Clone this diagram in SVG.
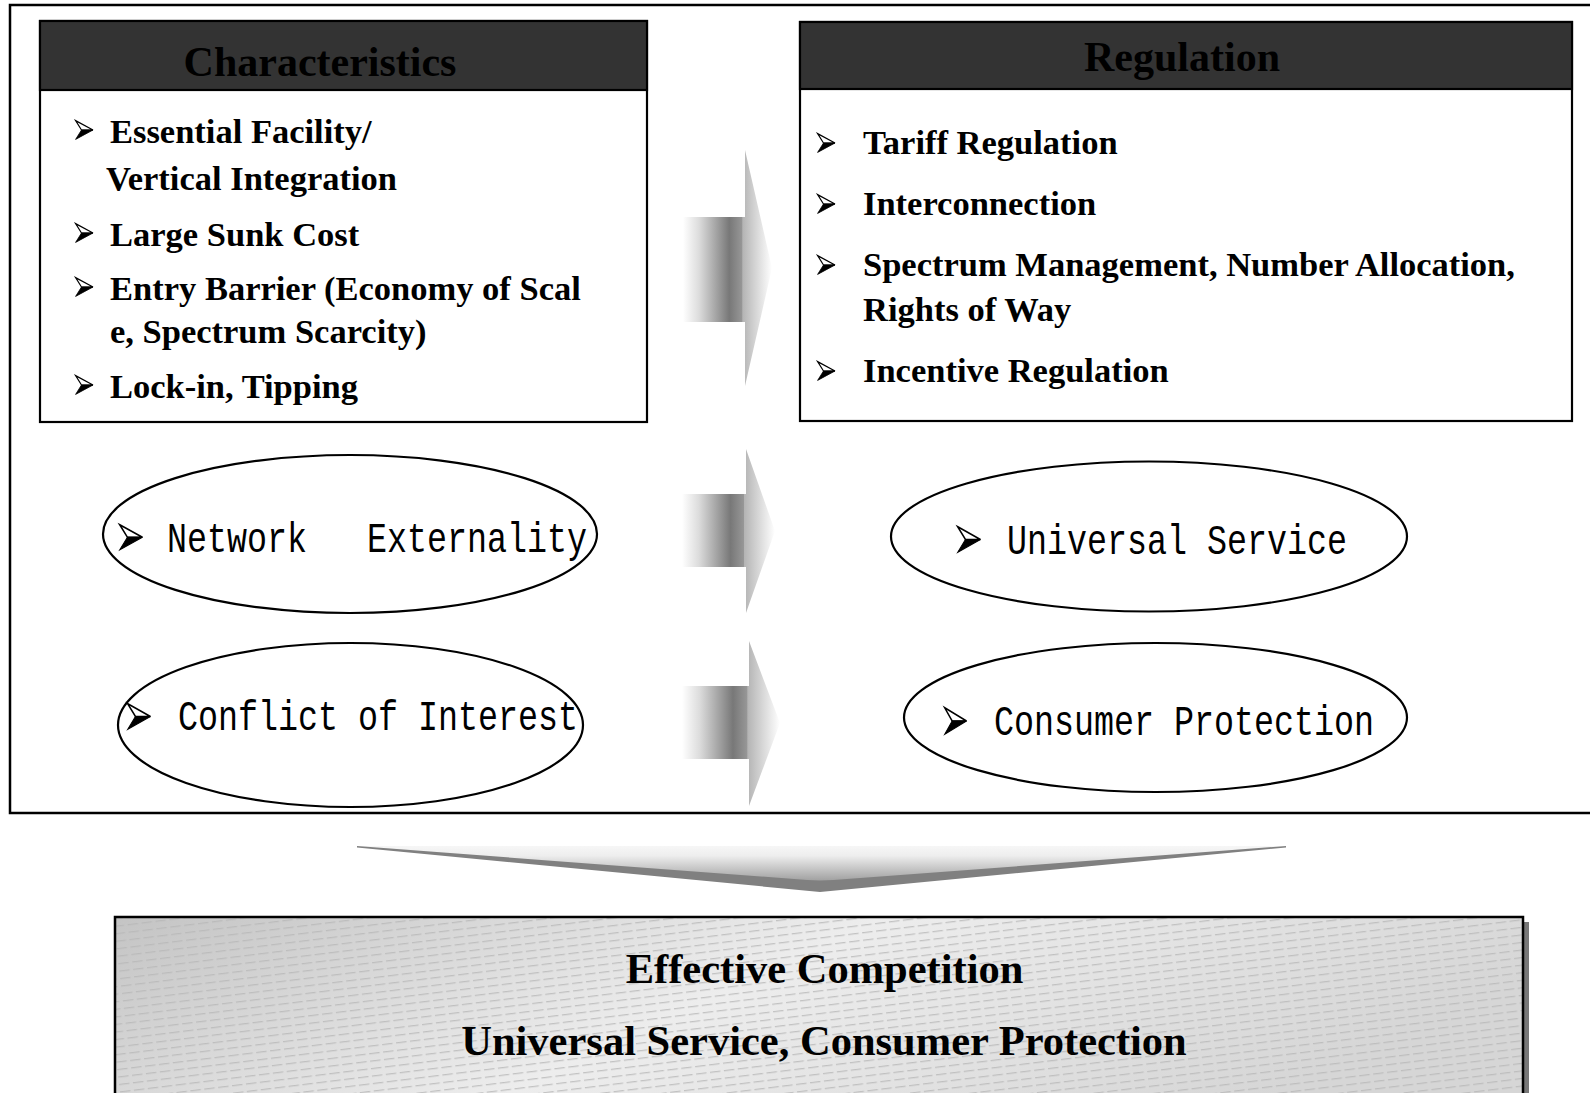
<svg xmlns="http://www.w3.org/2000/svg" width="1590" height="1093" viewBox="0 0 1590 1093">
<style>
.box{fill:#fff;stroke:#000;stroke-width:2.2}
.hdr{fill:#333;stroke:#000;stroke-width:2.2}
.ht{font-family:"Liberation Serif",serif;font-weight:bold;font-size:42px;fill:#000;text-anchor:middle}
.it{font-family:"Liberation Serif",serif;font-weight:bold;font-size:34.5px;fill:#000}
.ell{fill:#fff;stroke:#000;stroke-width:2.2}
.mono{font-family:"Liberation Mono",monospace;font-size:42px;fill:#000}
.bt{font-family:"Liberation Serif",serif;font-weight:bold;font-size:42.5px;fill:#000;text-anchor:middle}
</style>
<defs>
<g id="bul">
<polygon points="0.6,0.6 18,10 6.5,10" fill="#fff" stroke="#000" stroke-width="1.2" stroke-linejoin="miter"/>
<polygon points="6.5,10 18,10 0.6,19.4" fill="#000" stroke="#000" stroke-width="0.8"/>
</g>
<linearGradient id="arrG" x1="0" y1="0" x2="1" y2="0">
<stop offset="0" stop-color="#fff"/>
<stop offset="0.18" stop-color="#dcdcdc"/>
<stop offset="0.4" stop-color="#9c9c9c"/>
<stop offset="0.52" stop-color="#787878"/>
<stop offset="0.665" stop-color="#979797"/>
<stop offset="0.67" stop-color="#b4b4b4"/>
<stop offset="1" stop-color="#fff"/>
</linearGradient>
<linearGradient id="chevG" gradientUnits="userSpaceOnUse" x1="0" y1="836" x2="0" y2="892">
<stop offset="0" stop-color="#fff"/>
<stop offset="0.35" stop-color="#eeeeee"/>
<stop offset="0.78" stop-color="#a4a4a4"/>
<stop offset="0.8" stop-color="#8a8a8a"/>
<stop offset="0.82" stop-color="#9c9c9c"/>
<stop offset="1" stop-color="#989898"/>
</linearGradient>
<linearGradient id="botG" x1="0" y1="0" x2="1" y2="0.3">
<stop offset="0" stop-color="#c4c4c4"/>
<stop offset="0.5" stop-color="#ededed"/>
<stop offset="1" stop-color="#d6d6d6"/>
</linearGradient>
<pattern id="hatch" patternUnits="userSpaceOnUse" width="14" height="7.5" patternTransform="rotate(-7)">
<line x1="0" y1="3.5" x2="10.5" y2="3.5" stroke="#b8b8b8" stroke-width="1"/>
</pattern>
</defs>

<rect id="frame" x="10" y="5" width="1600" height="808" fill="none" stroke="#000" stroke-width="2.5"/>

<g id="characteristics">
<rect class="box" x="40" y="21" width="607" height="401"/>
<rect class="hdr" x="40" y="21" width="607" height="69"/>
<text class="ht" x="320" y="76">Characteristics</text>
<use href="#bul" x="75" y="120"/>
<text class="it" x="110" y="143">Essential Facility/</text>
<text class="it" x="106" y="190">Vertical Integration</text>
<use href="#bul" x="75" y="223"/>
<text class="it" x="110" y="246">Large Sunk Cost</text>
<use href="#bul" x="75" y="277"/>
<text class="it" x="110" y="300">Entry Barrier (Economy of Scal</text>
<text class="it" x="110" y="343">e, Spectrum Scarcity)</text>
<use href="#bul" x="75" y="375"/>
<text class="it" x="110" y="398">Lock-in, Tipping</text>
</g>

<g id="regulation">
<rect class="box" x="800" y="22" width="772" height="399"/>
<rect class="hdr" x="800" y="22" width="772" height="67"/>
<text class="ht" x="1182" y="71">Regulation</text>
<use href="#bul" x="817" y="133"/>
<text class="it" x="863" y="154">Tariff Regulation</text>
<use href="#bul" x="817" y="194"/>
<text class="it" x="863" y="215">Interconnection</text>
<use href="#bul" x="817" y="255"/>
<text class="it" x="863" y="276">Spectrum Management, Number Allocation,</text>
<text class="it" x="863" y="321">Rights of Way</text>
<use href="#bul" x="817" y="361"/>
<text class="it" x="863" y="382">Incentive Regulation</text>
</g>

<g id="network-externality">
<ellipse class="ell" cx="350" cy="534" rx="247" ry="79"/>
<use href="#bul" transform="translate(119,524) scale(1.3,1.33)"/>
<text class="mono" x="167" y="552" textLength="420" lengthAdjust="spacingAndGlyphs" xml:space="preserve">Network   Externality</text>
</g>

<g id="conflict-of-interest">
<ellipse class="ell" cx="350.5" cy="725" rx="232.5" ry="82"/>
<use href="#bul" transform="translate(127,703) scale(1.3,1.35)"/>
<text class="mono" x="178" y="730" textLength="400" lengthAdjust="spacingAndGlyphs">Conflict of Interest</text>
</g>

<g id="universal-service">
<ellipse class="ell" cx="1149" cy="536.5" rx="258" ry="75"/>
<use href="#bul" transform="translate(957,526) scale(1.3,1.35)"/>
<text class="mono" x="1007" y="554" textLength="340" lengthAdjust="spacingAndGlyphs">Universal Service</text>
</g>

<g id="consumer-protection">
<ellipse class="ell" cx="1155.5" cy="717.5" rx="251.5" ry="74.5"/>
<use href="#bul" transform="translate(944,707) scale(1.25,1.4)"/>
<text class="mono" x="994" y="735" textLength="380" lengthAdjust="spacingAndGlyphs">Consumer Protection</text>
</g>

<g id="connectors">
<polygon fill="url(#arrG)" points="683,217 745,217 745,150 772,268 745,386 745,322 683,322"/>
<polygon fill="url(#arrG)" points="682,494 746,494 746,449 775,531 746,613 746,567 682,567"/>
<polygon fill="url(#arrG)" points="682,686 749,686 749,641 780,723 749,806 749,759 682,759"/>
<g id="down-arrow">
<polygon fill="url(#chevG)" points="357,846 1286,846 820,891"/>
<polygon fill="#808080" points="357,846 820,881 820,892 357,847.5"/>
<polygon fill="#808080" points="1286,846 820,881 820,892 1286,847.5"/>
</g>
</g>

<g id="outcome">
<rect x="121" y="922" width="1408" height="200" fill="#777"/>
<rect x="115" y="917" width="1408" height="200" fill="url(#botG)"/>
<rect x="115" y="917" width="1408" height="200" fill="url(#hatch)"/>
<rect x="115" y="917" width="1408" height="200" fill="none" stroke="#000" stroke-width="2.5"/>
<text class="bt" x="824.5" y="983">Effective Competition</text>
<text class="bt" x="824" y="1055">Universal Service, Consumer Protection</text>
</g>
</svg>
